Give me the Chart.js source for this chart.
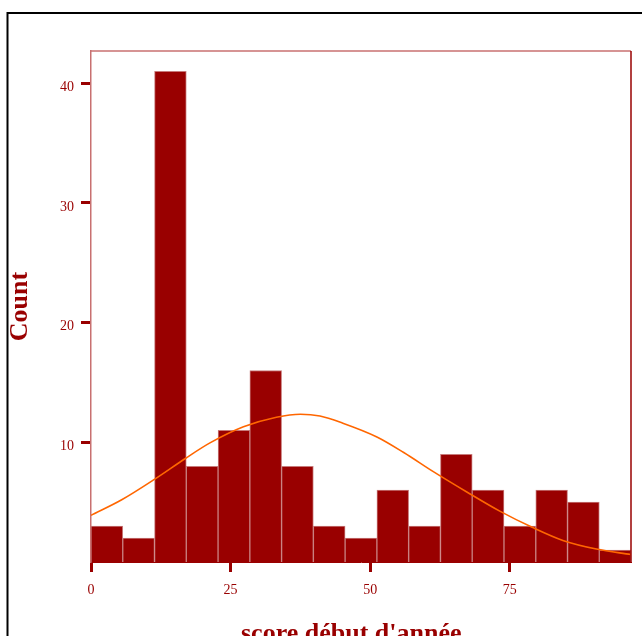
<!DOCTYPE html>
<html>
<head>
<meta charset="utf-8">
<script src="https://cdn.jsdelivr.net/npm/chart.js@4/dist/chart.umd.min.js"></script>
<style>
  html, body { margin: 0; padding: 0; background: #fff; overflow: hidden; }
  #wrap { width: 642px; height: 650px; }
</style>
</head>
<body>
<div id="wrap"><canvas id="myChart" width="642" height="650"></canvas></div>
<script>
'use strict';

// histogram bins (centres) and counts
let binCenters = [2.84, 8.53, 14.22, 19.91, 25.60, 31.29, 36.97, 42.66, 48.35, 54.04, 59.73, 65.42, 71.11, 76.80, 82.49, 88.18, 93.86];
let binCounts = [3, 2, 41, 8, 11, 16, 8, 3, 2, 6, 3, 9, 6, 3, 6, 5, 1];

// fitted curve
let curveX = [0, 5.5, 11.5, 16.9, 21.3, 27.3, 33.2, 37.5, 41, 45.1, 51.2, 56, 61.3, 67.3, 73.2, 79, 84.5, 90.5, 96.7];
let curveY = [3.9, 5.2, 6.95, 8.65, 9.95, 11.3, 12.1, 12.35, 12.2, 11.6, 10.45, 9.15, 7.55, 5.85, 4.25, 2.9, 1.8, 1.08, 0.62];

let xTicks = [0, 25, 50, 75];
let yTicks = [10, 20, 30, 40];

const red = '#990000';
const fontFamily = "'Liberation Serif', 'Times New Roman', serif";

let barData = [];
for (let i = 0; i < binCenters.length; i++) {
  barData.push({x: binCenters[i], y: binCounts[i]});
}
let lineData = [];
for (let i = 0; i < curveX.length; i++) {
  lineData.push({x: curveX[i], y: curveY[i]});
}

const frame = {
  id: 'frame',
  afterDraw(chart) {
    let ctx = chart.ctx;
    let a = chart.chartArea;
    ctx.save();
    // top edge of the plot
    ctx.strokeStyle = '#c87070';
    ctx.lineWidth = 1.5;
    ctx.beginPath();
    ctx.moveTo(a.left, a.top);
    ctx.lineTo(a.right, a.top);
    ctx.stroke();
    // right edge
    ctx.strokeStyle = red;
    ctx.lineWidth = 1.5;
    ctx.beginPath();
    ctx.moveTo(a.right, a.top);
    ctx.lineTo(a.right, a.bottom);
    ctx.stroke();
    // outer black frame
    ctx.strokeStyle = '#000';
    ctx.lineWidth = 2;
    ctx.strokeRect(7.5, 13, 720, 720);
    ctx.restore();
  }
};

const config = {
  data: {
    datasets: [
      {
        type: 'line',
        data: lineData,
        borderColor: '#ff6600',
        borderWidth: 1.6,
        pointRadius: 0,
        cubicInterpolationMode: 'monotone',
        order: 0,
      },
      {
        type: 'bar',
        data: barData,
        backgroundColor: red,
        borderColor: '#c77a7a',
        borderWidth: 1,
        barPercentage: 1,
        categoryPercentage: 1,
        order: 1,
      },
    ],
  },
  options: {
    responsive: false,
    animation: false,
    layout: { padding: { left: 0, right: 11, top: 51, bottom: 0 } },
    plugins: { legend: { display: false }, tooltip: { enabled: false } },
    scales: {
      x: {
        type: 'linear',
        min: 0,
        max: 96.7,
        offset: false,
        afterFit(scale) { scale.height = 88; },
        afterBuildTicks(scale) { scale.ticks = xTicks.map(v => ({value: v})); },
        grid: {
          offset: false,
          drawOnChartArea: false,
          drawTicks: true,
          tickLength: 10,
          tickWidth: 3,
          tickColor: red,
        },
        border: { display: true, color: red, width: 1 },
        ticks: {
          padding: 10,
          color: red,
          maxRotation: 0,
          font: { family: fontFamily, size: 14 },
        },
        title: {
          display: true,
          text: "score début d'année\u00a0\u00a0\u00a0",
          color: red,
          padding: { top: 0, bottom: 0 },
          font: { family: fontFamily, size: 26, weight: 'bold' },
        },
      },
      y: {
        type: 'linear',
        min: 0,
        max: 42.7,
        afterFit(scale) { scale.width = 91; },
        afterBuildTicks(scale) { scale.ticks = yTicks.map(v => ({value: v})); },
        grid: {
          drawOnChartArea: false,
          drawTicks: true,
          tickLength: 10,
          tickWidth: 3,
          tickColor: red,
        },
        border: { display: true, color: '#c87070', width: 1.5 },
        ticks: {
          padding: 7,
          labelOffset: 4,
          color: red,
          font: { family: fontFamily, size: 14 },
        },
        title: {
          display: true,
          text: 'Count',
          color: red,
          padding: { top: 5, bottom: 0 },
          font: { family: fontFamily, size: 26, weight: 'bold' },
        },
      },
    },
  },
  plugins: [frame],
};

let chartCanvas = document.getElementById('myChart').getContext('2d');
const myChart = new Chart(chartCanvas, config);
</script>
</body>
</html>
